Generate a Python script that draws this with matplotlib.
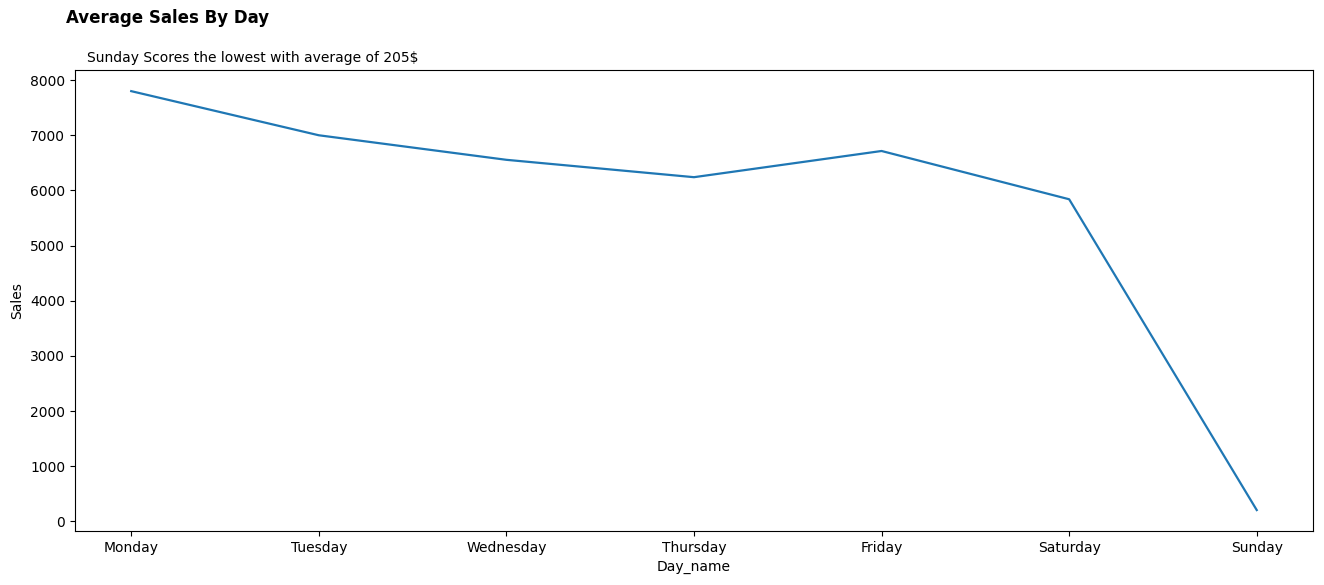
import matplotlib.pyplot as plt

# Average sales per weekday
days = ["Monday", "Tuesday", "Wednesday", "Thursday", "Friday", "Saturday", "Sunday"]
sales = [7800, 7000, 6555, 6240, 6715, 5840, 205]

fig = plt.figure(figsize=(13.24, 5.85), dpi=100)
ax = fig.add_axes([0.0566, 0.0923, 0.9351, 0.7877])

ax.plot(days, sales, color="#1f77b4", linewidth=1.6)

ax.set_xlabel("Day_name")
ax.set_ylabel("Sales")
ax.set_yticks(range(0, 8001, 1000))

# Titres
fig.text(0.0498, 0.969, "Average Sales By Day", fontsize=12, fontweight="bold",
         ha="left", va="center")
fig.text(0.0657, 0.901, "Sunday Scores the lowest with average of 205$", fontsize=10,
         ha="left", va="center")

fig.savefig("out.png", dpi=100)
